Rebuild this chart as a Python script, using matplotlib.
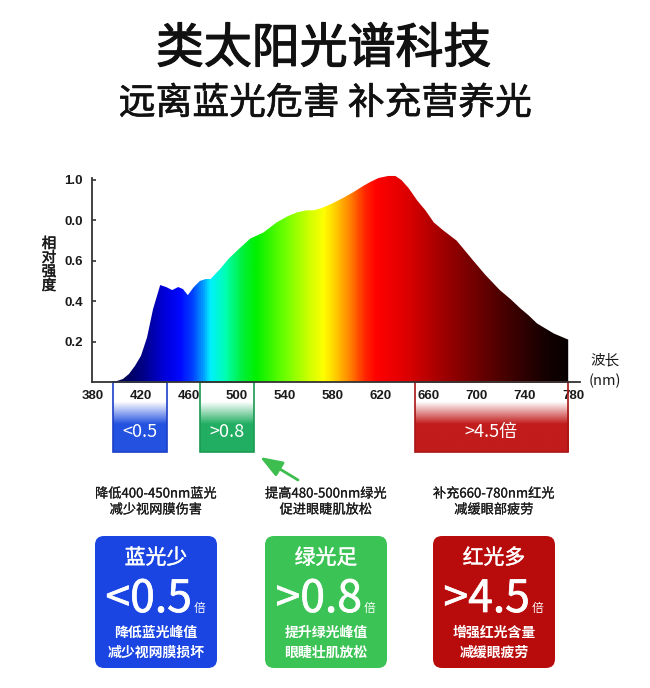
import numpy as np
import matplotlib
matplotlib.use('Agg')
import matplotlib.pyplot as plt
import matplotlib.patheffects as pe
from matplotlib.colors import LinearSegmentedColormap, to_rgb
from matplotlib.patches import Polygon, Rectangle, FancyBboxPatch
from matplotlib import font_manager

plt.rcParams['font.family'] = ['Noto Sans CJK SC', 'DejaVu Sans']
_names = {f.name for f in font_manager.fontManager.ttflist}
NARROW = 'Liberation Sans Narrow' if 'Liberation Sans Narrow' in _names else 'Liberation Sans'

# ---------------- data ----------------
title = '类太阳光谱科技'
subtitle = '远离蓝光危害 补充营养光'

wavelength = [395, 400, 405, 410, 415, 420, 425, 430, 436, 441, 446, 451, 455, 459,
              464, 469, 474, 478, 486, 493, 500, 511, 522, 533, 542, 550, 558, 564,
              570, 578, 588, 597, 605, 611, 618, 626, 632, 637, 643, 650, 657, 664,
              672, 683, 690, 697, 707, 719, 728, 736, 743, 750, 757, 764, 770, 776]
intensity = [0.0, 0.005, 0.015, 0.04, 0.08, 0.13, 0.22, 0.36, 0.48, 0.47, 0.455, 0.47, 0.46, 0.43,
             0.47, 0.50, 0.51, 0.51, 0.56, 0.61, 0.65, 0.71, 0.74, 0.79, 0.82, 0.84, 0.85, 0.85,
             0.86, 0.88, 0.91, 0.94, 0.97, 0.99, 1.01, 1.02, 1.02, 1.0, 0.96, 0.90, 0.85, 0.79,
             0.75, 0.70, 0.65, 0.60, 0.53, 0.455, 0.41, 0.365, 0.33, 0.29, 0.265, 0.24, 0.225, 0.21]

x_ticks = [380, 420, 460, 500, 540, 580, 620, 660, 700, 740, 780]
y_ticks = [0.2, 0.4, 0.6, 0.8, 1.0]
y_tick_labels = ['0.2', '0.4', '0.6', '0.0', '1.0']
y_label = '相对强度'
x_label = ['波长', '(nm)']

band_ranges = [(397, 442), (469, 514), (648, 776)]
band_labels = ['<0.5', '>0.8', '>4.5倍']
band_colors = ['#2452E0', '#22AE62', '#C21C1C']
band_edges = ['#1C3FC8', '#1A9A52', '#A81515']

captions = [['降低400-450nm蓝光', '减少视网膜伤害'],
            ['提高480-500nm绿光', '促进眼睫肌放松'],
            ['补充660-780nm红光', '减缓眼部疲劳']]

card_titles = ['蓝光少', '绿光足', '红光多']
card_values = ['<0.5', '>0.8', '>4.5']
card_unit = '倍'
card_notes = [['降低蓝光峰值', '减少视网膜损坏'],
              ['提升绿光峰值', '眼睫壮肌放松'],
              ['增强红光含量', '减缓眼疲劳']]
card_colors = ['#1A45E2', '#3CC355', '#B80C0C']

spectrum_stops = [(379, '#000030'), (405, '#000055'), (422, '#00008C'), (438, '#0000D8'),
                  (452, '#0008FF'), (462, '#0040FF'), (470, '#0090FF'), (477, '#00F0FF'),
                  (490, '#00FFB0'), (503, '#00F040'), (515, '#00F000'), (540, '#70FF00'),
                  (560, '#D0FF00'), (572, '#FFFF00'), (584, '#FFC000'), (595, '#FF7A00'),
                  (606, '#FF2800'), (616, '#FF0000'), (640, '#E00000'), (670, '#A20000'),
                  (700, '#6E0000'), (730, '#3C0000'), (760, '#120000'), (786, '#000000')]


def thick(w, col):
    return [pe.withStroke(linewidth=w, foreground=col)]


# ---------------- layout ----------------
W, H = 650, 688
fig = plt.figure(figsize=(W / 100, H / 100), dpi=100)
fig.patch.set_facecolor('white')

# overlay axes in pixel coordinates (for cards / captions / arrow)
ov = fig.add_axes([0, 0, 1, 1], zorder=0)
ov.set_xlim(0, W)
ov.set_ylim(H, 0)
ov.axis('off')

XMIN, XMAX = 379, 786
YMAX = 1.06
SPINE_TOP = 1.01
PX_NM = 1.2
PX_UNIT = 202.0
left_px = 93 - (380 - XMIN) * PX_NM
right_px = 93 + (XMAX - 380) * PX_NM
base_px = 382
ax = fig.add_axes([left_px / W, 1 - base_px / H, (right_px - left_px) / W, YMAX * PX_UNIT / H], zorder=1)
ax.set_facecolor('none')
ax.set_autoscale_on(False)
ax.set_xlim(XMIN, XMAX)
ax.set_ylim(0, YMAX)

# spectrum gradient clipped by curve
s0, s1 = spectrum_stops[0][0], spectrum_stops[-1][0]
stops_pos = [(w - s0) / (s1 - s0) for w, _ in spectrum_stops]
cmap = LinearSegmentedColormap.from_list('spec', list(zip(stops_pos, [c for _, c in spectrum_stops])))
grid = np.linspace(0, 1, 800)
img = cmap(grid)[np.newaxis, :, :]
im = ax.imshow(img, extent=[s0, s1, 0, YMAX], aspect='auto', origin='lower', zorder=1,
               interpolation='bilinear')
verts = [(wavelength[0], 0)] + list(zip(wavelength, intensity)) + [(wavelength[-1], 0)]
poly = Polygon(verts, closed=True, facecolor='none', edgecolor='none', transform=ax.transData)
ax.add_patch(poly)
im.set_clip_path(poly)

# axes styling
for s in ['top', 'right']:
    ax.spines[s].set_visible(False)
for s in ['left', 'bottom']:
    ax.spines[s].set_color('#333333')
    ax.spines[s].set_linewidth(1.3)
    ax.spines[s].set_zorder(5)
ax.spines['left'].set_bounds(0, SPINE_TOP)
ax.set_xticks(x_ticks)
ax.set_xticklabels([str(t) for t in x_ticks], fontfamily=NARROW, fontweight='bold',
                   fontsize=9.5, color='#1a1a1a')
ax.set_yticks(y_ticks)
ax.set_yticklabels(y_tick_labels, fontfamily=NARROW, fontweight='bold', fontsize=9.5,
                   color='#1a1a1a')
ax.tick_params(axis='x', length=0, pad=6)
ax.tick_params(axis='y', direction='in', length=3, width=1.2, color='#333333', pad=6.5)

# band boxes under the axis
box_bottom = -(452 - base_px) / PX_UNIT
t = np.linspace(0, 1, 200)
mix = np.clip((t - 0.28) / 0.32, 0, 1)
for (x0, x1), lab, col, ec in zip(band_ranges, band_labels, band_colors, band_edges):
    c = np.array(to_rgb(col))
    g = (1 - mix)[:, None] * np.ones(3) + mix[:, None] * c
    ax.imshow(g[:, np.newaxis, :], extent=[x0, x1, box_bottom, 0], aspect='auto',
              origin='upper', clip_on=False, zorder=0.5, interpolation='bilinear')
    ax.add_patch(Rectangle((x0, box_bottom), x1 - x0, -box_bottom, facecolor='none',
                           edgecolor=ec, linewidth=1.2, clip_on=False, zorder=4))
    ax.text((x0 + x1) / 2, -(432 - base_px) / PX_UNIT, lab, color='white', fontsize=13,
            ha='center', va='center', clip_on=False, zorder=6)
ax.set_xlim(XMIN, XMAX)
ax.set_ylim(0, YMAX)

# axis labels
ov.text(49, 265, '\n'.join(y_label), fontsize=10.5, ha='center',
        va='center', linespacing=1.0, color='#1a1a1a', path_effects=thick(0.35, '#1a1a1a'))
ov.text(605, 360, x_label[0], fontsize=10.5, ha='center', va='center', color='#1a1a1a')
ov.text(605, 381, x_label[1], fontsize=10.5, ha='center', va='center', color='#1a1a1a')

# titles
ov.text(323.5, 49, title, fontsize=34.5, ha='center', va='center', color='#111111',
        path_effects=thick(0.9, '#111111'))
ov.text(325, 103.5, subtitle, fontsize=26.5, ha='center', va='center',
        color='#111111', path_effects=thick(0.45, '#111111'))

# arrow
ov.annotate('', xy=(260, 457), xytext=(298, 480),
            arrowprops=dict(arrowstyle='-|>,head_length=0.9,head_width=0.33', color='#3DBE4E',
                            lw=2, mutation_scale=15, shrinkA=0, shrinkB=0))

# captions and cards
card_x0 = [95, 265, 433]
card_w, card_y0, card_h = 122, 536, 132
for i in range(3):
    cx = card_x0[i] + card_w / 2
    ov.text(cx, 494, captions[i][0], fontsize=9.5, ha='center', va='center',
            color='#1a1a1a', path_effects=thick(0.15, '#1a1a1a'))
    ov.text(cx, 510, captions[i][1], fontsize=9.5, ha='center', va='center',
            color='#1a1a1a', path_effects=thick(0.15, '#1a1a1a'))
    ov.add_patch(FancyBboxPatch((card_x0[i], card_y0), card_w, card_h,
                                boxstyle='round,pad=0,rounding_size=9',
                                facecolor=card_colors[i], edgecolor='none'))
    ov.text(cx, 558, card_titles[i], fontsize=15, ha='center',
            va='center', color='white', path_effects=thick(0.3, 'white'))
    ov.text(cx + 36, 612, card_values[i], fontsize=32, ha='right',
            va='baseline', color='white', path_effects=thick(0.5, 'white'))
    ov.text(cx + 38, 612, card_unit, fontsize=8.5, ha='left', va='baseline', color='white')
    ov.text(cx, 633, card_notes[i][0], fontsize=10, fontweight='bold', ha='center',
            va='center', color='white')
    ov.text(cx, 653, card_notes[i][1], fontsize=10, fontweight='bold', ha='center',
            va='center', color='white')

fig.savefig('out.png', dpi=100, facecolor='white')
